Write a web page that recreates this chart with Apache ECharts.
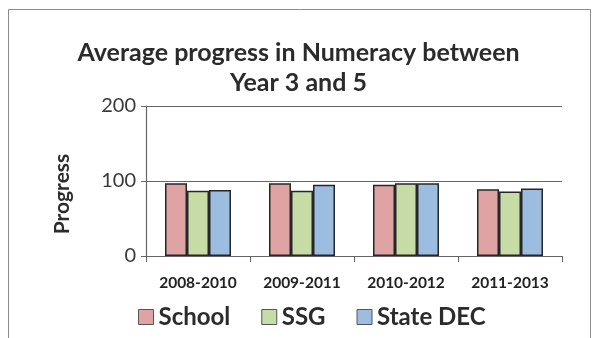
<!DOCTYPE html>
<html>
<head>
<meta charset="utf-8">
<script src="https://cdn.jsdelivr.net/npm/echarts@6/dist/echarts.min.js"></script>
<style>
  html, body { margin: 0; padding: 0; background: #fff; }
  #chart { width: 597px; height: 338px; }
</style>
</head>
<body>
<div id="chart"></div>
<script>
// Average progress in Numeracy, Year 3 to Year 5, by cohort period
const periods = ['2008-2010', '2009-2011', '2010-2012', '2011-2013'];
const schoolValues = [97, 97, 95, 89];
const ssgValues = [87, 87, 97, 86];
const stateDecValues = [88, 95, 97, 90];
const yTicks = [0, 100, 200];

const FONT = 'Lato, "Open Sans", "DejaVu Sans", sans-serif';
const barBorder = { borderColor: '#262626', borderWidth: 1.5 };

const chart = echarts.init(document.getElementById('chart'));
chart.setOption({
  backgroundColor: '#ffffff',
  animation: false,
  title: {
    text: 'Average progress in Numeracy between\nYear 3 and 5',
    left: 'center',
    top: 33,
    textStyle: {
      fontFamily: FONT, fontSize: 25, fontWeight: 'bold', color: '#2b2b2b',
      lineHeight: 30
    }
  },
  graphic: [
    {
      type: 'rect',
      shape: { x: 8.5, y: 9.5, width: 582, height: 340 },
      style: { fill: 'none', stroke: '#8c8c8c', lineWidth: 1 },
      silent: true
    },
    {
      // vertical axis title
      type: 'text',
      x: 62, y: 194,
      rotation: Math.PI / 2,
      style: {
        text: 'Progress',
        fontFamily: FONT, fontSize: 21, fontWeight: 'bold', fill: '#2b2b2b',
        align: 'center', verticalAlign: 'middle'
      },
      silent: true
    }
  ],
  legend: {
    left: 133,
    top: 300,
    icon: 'rect',
    itemWidth: 15,
    itemHeight: 15,
    itemGap: 31,
    itemStyle: { borderColor: '#555', borderWidth: 1 },
    textStyle: { fontFamily: FONT, fontSize: 24, fontWeight: 'bold', color: '#2b2b2b' },
    data: ['School', 'SSG', 'State DEC']
  },
  grid: { left: 146, right: 35, top: 106, bottom: 82 },
  xAxis: {
    type: 'category',
    data: periods,
    axisLine: { lineStyle: { color: '#666', width: 1.2 } },
    axisTick: { show: true, length: 6, lineStyle: { color: '#666' } },
    axisLabel: {
      interval: 0,
      hideOverlap: false,
      fontFamily: FONT, fontSize: 15.5, fontWeight: 'bold', color: '#222', margin: 19
    }
  },
  yAxis: {
    type: 'value',
    min: yTicks[0],
    max: yTicks[yTicks.length - 1],
    interval: 100,
    axisLine: { show: true, lineStyle: { color: '#666', width: 1.2 } },
    axisTick: { show: true, length: 5, lineStyle: { color: '#666' } },
    splitLine: { lineStyle: { color: '#666', width: 1.2 } },
    axisLabel: { fontFamily: FONT, fontSize: 20, color: '#3a3a3a', margin: 10 }
  },
  series: [
    {
      name: 'School', type: 'bar', data: schoolValues,
      barWidth: 22, barGap: '0%',
      itemStyle: Object.assign({ color: '#dea3a2' }, barBorder)
    },
    {
      name: 'SSG', type: 'bar', data: ssgValues,
      barWidth: 22,
      itemStyle: Object.assign({ color: '#c6dba6' }, barBorder)
    },
    {
      name: 'State DEC', type: 'bar', data: stateDecValues,
      barWidth: 22,
      itemStyle: Object.assign({ color: '#9dbde0' }, barBorder)
    }
  ]
});
</script>
</body>
</html>
